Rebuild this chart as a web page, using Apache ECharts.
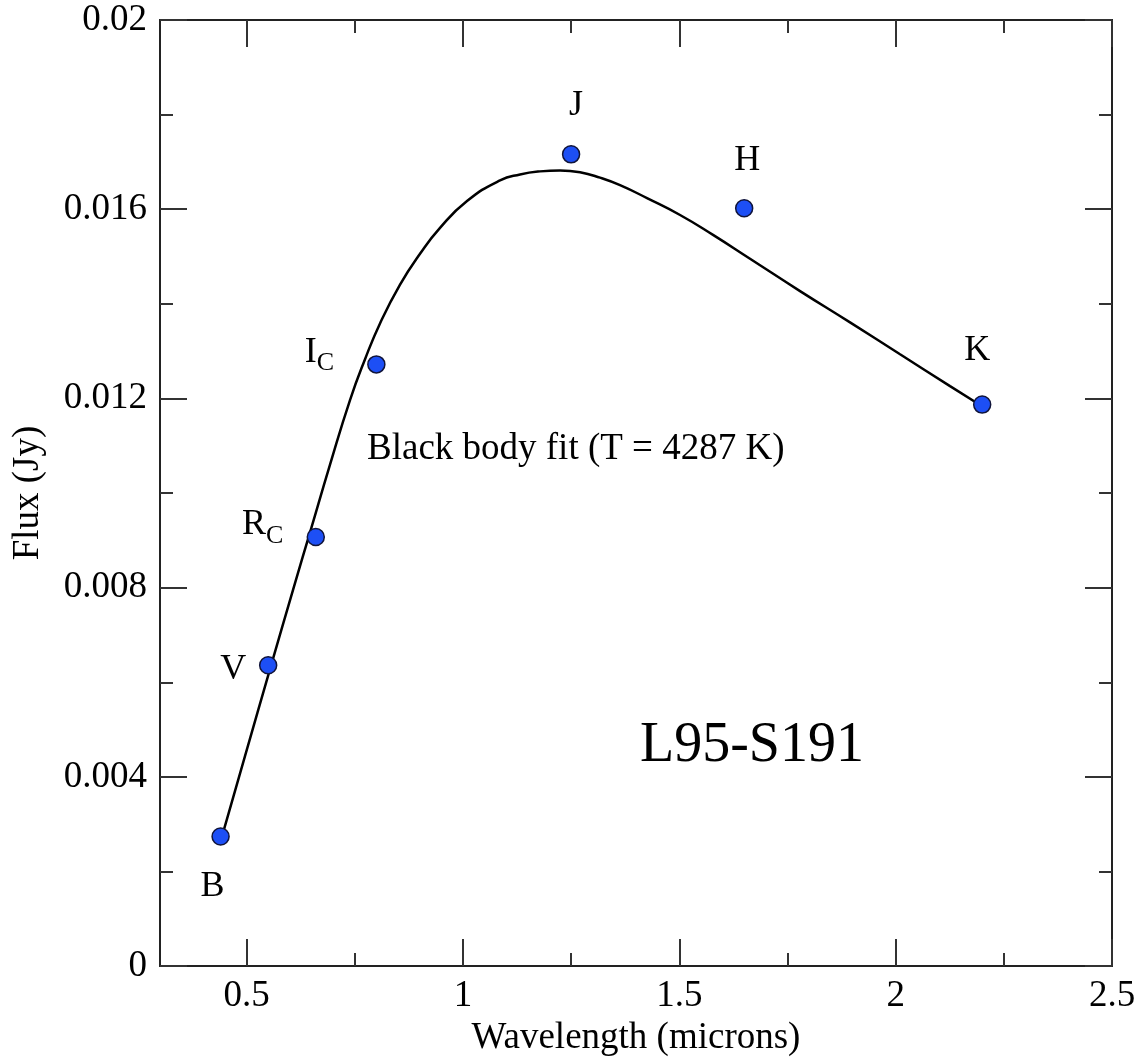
<!DOCTYPE html>
<html>
<head>
<meta charset="utf-8">
<script src="https://cdn.jsdelivr.net/npm/echarts@6/dist/echarts.min.js"></script>
<style>html,body{margin:0;padding:0;background:#fff;}#chart{width:1141px;height:1062px;}</style>
</head>
<body>
<div id="chart"></div>
<script>
// Photometric points
const bands = ['B', 'V', 'R', 'I', 'J', 'H', 'K'];
const bandSubs = ['', '', 'C', 'C', '', '', ''];
const bandWavelength = [0.44, 0.55, 0.66, 0.80, 1.25, 1.65, 2.20];
const bandFlux = [0.00274, 0.00636, 0.00907, 0.01272, 0.01716, 0.01602, 0.01187];

// Black body fit curve
const fitX = [0.4456, 0.4964, 0.5542, 0.612, 0.6467, 0.6929, 0.7391, 0.7738, 0.8084, 0.8547, 0.9009, 0.9471, 1.0095, 1.0858, 1.132, 1.1782, 1.2244, 1.2707, 1.3169, 1.3631, 1.4255, 1.5018, 1.578, 1.6635, 1.7791, 1.8946, 2.0102, 2.1257, 2.1951];
const fitY = [0.002818, 0.004437, 0.006278, 0.008097, 0.009169, 0.0106, 0.011966, 0.012829, 0.013586, 0.014406, 0.015058, 0.015605, 0.016172, 0.016610, 0.016735, 0.016800, 0.01682, 0.016782, 0.016667, 0.016509, 0.016235, 0.015878, 0.015457, 0.014953, 0.014269, 0.013607, 0.012934, 0.012261, 0.011861];

// Axis ticks
const xMajor = [0.5, 1, 1.5, 2, 2.5];
const xMinor = [0.75, 1.25, 1.75, 2.25];

const FONT = '"Liberation Serif", "DejaVu Serif", serif';
const labelOffsets = [[-8, 50], [-35, 4], [-53, -12], [-57, -12], [5, -49], [3, -48], [-5, -54]];

const chart = echarts.init(document.getElementById('chart'));

const axisLine = { show: true, lineStyle: { color: '#222', width: 2 } };
function xAxisCfg(pos, ticks, len, showLabel) {
  return {
    type: 'value', position: pos, min: 0.3, max: 2.5,
    axisLine: axisLine,
    axisTick: { show: true, inside: true, length: len, customValues: ticks, lineStyle: { color: '#333', width: 2 } },
    axisLabel: showLabel ? { show: true, customValues: ticks, fontFamily: FONT, fontSize: 37, color: '#000', margin: 12 } : { show: false },
    splitLine: { show: false }
  };
}
function yAxisCfg(pos, showLabel) {
  return {
    type: 'value', position: pos, min: 0, max: 0.02, interval: 0.004,
    axisLine: axisLine,
    axisTick: { show: true, inside: true, length: 27, lineStyle: { color: '#333', width: 2 } },
    minorTick: { show: true, splitNumber: 2, length: 13, lineStyle: { color: '#333', width: 2 } },
    axisLabel: showLabel ? { show: true, fontFamily: FONT, fontSize: 37, color: '#000', margin: 13,
      formatter: v => String(+v.toFixed(3)) } : { show: false },
    splitLine: { show: false }, minorSplitLine: { show: false }
  };
}

const xAxes = [
  Object.assign(xAxisCfg('bottom', xMajor, 27, true), {
    name: 'Wavelength (microns)', nameLocation: 'middle', nameGap: 52,
    nameTextStyle: { fontFamily: FONT, fontSize: 37, color: '#000' }
  }),
  xAxisCfg('bottom', xMinor, 13, false),
  xAxisCfg('top', xMajor, 27, false),
  xAxisCfg('top', xMinor, 13, false)
];
const yAxes = [
  Object.assign(yAxisCfg('left', true), {
    name: 'Flux (Jy)', nameLocation: 'middle', nameGap: 113, nameRotate: 90,
    nameTextStyle: { fontFamily: FONT, fontSize: 37, color: '#000' }
  }),
  yAxisCfg('right', false)
];

const pointData = bands.map((b, i) => ({
  value: [bandWavelength[i], bandFlux[i]],
  label: {
    show: true, position: 'inside', offset: labelOffsets[i],
    formatter: bandSubs[i] ? '{a|' + b + '}{b|' + bandSubs[i] + '}' : '{a|' + b + '}'
  }
}));

chart.setOption({
  animation: false,
  backgroundColor: '#fff',
  grid: { left: 160, top: 20, width: 952, height: 951, containLabel: false },
  xAxis: xAxes,
  yAxis: yAxes,
  series: [
    {
      type: 'line', xAxisIndex: 0, yAxisIndex: 0,
      data: fitX.map((x, i) => [x, fitY[i]]),
      showSymbol: false, smooth: 0.5,
      lineStyle: { color: '#000', width: 2.5 },
      z: 2
    },
    {
      type: 'scatter', xAxisIndex: 0, yAxisIndex: 0,
      data: pointData,
      symbol: 'circle', symbolSize: 17,
      itemStyle: { color: '#1d4ff5', borderColor: '#10143a', borderWidth: 1.5, opacity: 1 },
      label: {
        color: '#000', fontFamily: FONT, opacity: 1, textBorderWidth: 0,
        rich: {
          a: { fontFamily: FONT, fontSize: 36, color: '#000' },
          b: { fontFamily: FONT, fontSize: 26, color: '#000', padding: [22, 0, 0, 0] }
        }
      },
      z: 3
    }
  ],
  graphic: [
    { type: 'text', left: 367, top: 431,
      style: { text: 'Black body fit (T = 4287 K)', font: '37px ' + FONT, fill: '#000' } },
    { type: 'text', left: 640, top: 718,
      style: { text: 'L95-S191', font: '56px ' + FONT, fill: '#000' } }
  ]
});
</script>
</body>
</html>
